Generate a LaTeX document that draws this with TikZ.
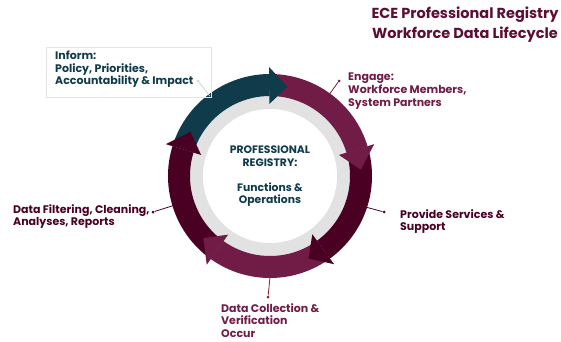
\documentclass[tikz,border=0pt]{standalone}
\usepackage{fontspec}
\setmainfont{Poppins}
\usetikzlibrary{calc}
\definecolor{cTeal}{HTML}{0F3B4A}
\definecolor{cMar}{HTML}{701C47}
\definecolor{cDark}{HTML}{4A0022}
\definecolor{cTitle}{HTML}{5C0F35}
\definecolor{cRed}{HTML}{8B1E2E}
\definecolor{cGrayBand}{HTML}{E2E2E2}
\definecolor{cBox}{HTML}{E4E4E4}
\newcommand\arrbody[3]{% colour, tail angle, head-base angle
  \fill[#1] (#2:102) arc[start angle=#2,end angle=#3,radius=102] -- (#3:80) arc[start angle=#3,end angle=#2,radius=80] -- cycle;}
\newcommand\arrhead[3]{% colour, head-base angle, tip angle
  \fill[#1] (#2:109) -- (#3:91) -- (#2:72) -- cycle;}
\tikzset{
  lbl/.style={anchor=north west,inner sep=0pt,align=left,font=\bfseries\fontsize{11}{12.8}\selectfont},
  dotc/.style={circle,fill,inner sep=0pt,minimum size=3pt},
  conn/.style={line width=0.8pt}
}
\begin{document}
\begin{tikzpicture}[x=1pt,y=1pt]
\useasboundingbox (0,0) rectangle (561,341);
% title
\node[anchor=north,inner sep=0pt,align=center,text=cTitle,font=\bfseries\fontsize{14.5}{20}\selectfont] (title) at (465,334) {ECE Professional Registry\\Workforce Data Lifecycle};
% ring
\begin{scope}[shift={(270,165)}]
  \fill[cGrayBand] (0,0) circle (81);
  \fill[white] (0,0) circle (67);
  \arrbody{cDark}{-125.5}{-197}
  \arrbody{cTeal}{163}{90.5}
  \arrbody{cMar}{90.5}{17}
  \arrbody{cDark}{17}{-54}
  \arrbody{cMar}{-54}{-125.5}
  \arrhead{cTeal}{90.5}{79}
  \arrhead{cMar}{17}{4}
  \arrhead{cDark}{-54}{-65}
  \arrhead{cMar}{-125.5}{-137}
  \arrhead{cDark}{-197}{-209}
  \coordinate (rInform) at (127:100);
  \coordinate (rEngage) at (54:99);
  \coordinate (rProvide) at (-18:100);
  \coordinate (rCollect) at (-90:101);
  \coordinate (rFilter) at (-163:100);
\end{scope}
\node[anchor=north,inner sep=0pt,align=center,text=cTeal,font=\bfseries\fontsize{10.8}{12.5}\selectfont] (center) at (270,195) {PROFESSIONAL\\REGISTRY:\\[12.5pt]Functions \&\\Operations};
% inform box
\node[draw=cBox,line width=0.6pt,minimum width=165pt,minimum height=50pt,anchor=north west,inner sep=0pt] (box) at (46,294) {};
\node[lbl,text=cTeal] (inform) at (55,290.5) {Inform:\\Policy, Priorities,\\Accountability \& Impact};
\node[dotc,fill=gray!35] (dInform) at (198,260) {};
\draw[conn,gray!35] (dInform) -- (rInform);
% engage
\node[lbl,text=cMar] (engage) at (348,268) {Engage:\\Workforce Members,\\System Partners};
\node[dotc,fill=cMar] (dEngage) at (339,260) {};
\draw[conn,cMar] (dEngage) -- (rEngage);
% provide
\node[lbl,text=cDark] (provide) at (400,132) {Provide Services \&\\Support};
\node[dotc,fill=cDark] (dProvide) at (384,129) {};
\draw[conn,cDark] (dProvide) -- (rProvide);
% collection
\node[lbl,text=cMar] (collect) at (221,38) {Data Collection \&\\Verification\\Occur};
\node[dotc,fill=cRed] (dCollect) at (268,44) {};
\draw[conn,cRed] (dCollect) -- (rCollect);
% filtering
\node[lbl,text=cDark] (filter) at (13,137) {Data Filtering, Cleaning,\\Analyses, Reports};
\node[dotc,fill=cDark] (dFilter) at (153,129) {};
\draw[conn,cDark] (dFilter) -- (rFilter);
\end{tikzpicture}
\end{document}
